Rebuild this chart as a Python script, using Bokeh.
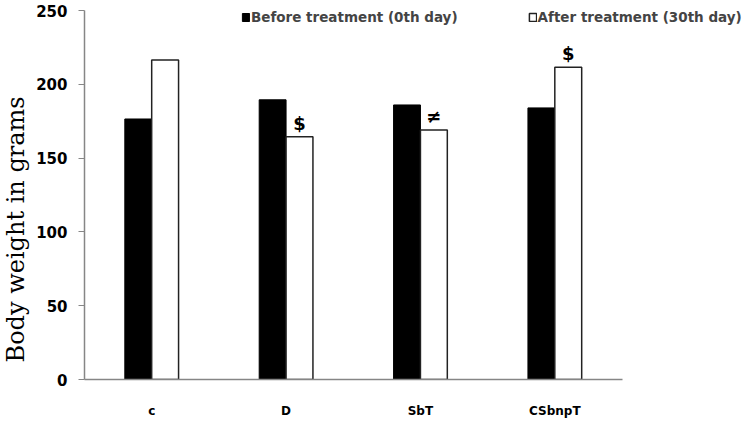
from bokeh.plotting import figure
from bokeh.models import (ColumnDataSource, Range1d, FixedTicker, Legend,
                          LegendItem, Title)
from bokeh.transform import dodge
from bokeh.core.properties import value
from bokeh.embed import file_html
from bokeh.resources import INLINE

# ---- data ----
categories = ["c", "D", "SbT", "CSbnpT"]
before = [176.5, 189.5, 186, 184]
after = [216.5, 164.5, 169, 211.5]
y_ticks = [0, 50, 100, 150, 200, 250]
ann_cats = ["D", "SbT", "CSbnpT"]
ann_text = ["$", "\u2260", "$"]

# category slot centres (derived from order)
pos = [i + 0.5 for i in range(len(categories))]
pos_map = dict(zip(categories, pos))
after_map = dict(zip(categories, after))
ann_x = [pos_map[c] for c in ann_cats]
ann_y = [after_map[c] for c in ann_cats]

src = ColumnDataSource(dict(pos=pos, before=before, after=after))
ann = ColumnDataSource(dict(x=ann_x, txt=ann_text, y=ann_y))

AX = "#868686"
SANS = "DejaVu Sans"

FRAME_W = 668          # frame spans to the right edge so the legend fits
CAT_W = 537.5          # pixel width occupied by the four category slots
FRAME_H = 379
Y_TOP = 250 + 10 * 250 / 369   # leaves 10px above the 250 line

p = figure(x_range=Range1d(0, len(categories) * FRAME_W / CAT_W),
           y_range=Range1d(0, Y_TOP),
           frame_width=FRAME_W, frame_height=FRAME_H,
           min_border_left=84, min_border_right=0,
           min_border_top=0, min_border_bottom=41,
           output_backend="svg", toolbar_location=None,
           background_fill_color="white", border_fill_color="white")
p.outline_line_color = None
p.grid.visible = False

r1 = p.vbar(x=dodge("pos", -0.1), top="before", width=0.2,
            source=src, fill_color="black", line_color="black", line_width=1)
r2 = p.vbar(x=dodge("pos", 0.1), top="after", width=0.2,
            source=src, fill_color="white", line_color="#222222", line_width=1.5)

p.text(x=dodge("x", 0.1), y="y", text="txt", source=ann,
       text_font=value(SANS), text_font_style="bold", text_font_size="18px",
       text_align="center", text_baseline="bottom", y_offset=-3,
       text_color="black")

# y axis
p.yaxis.ticker = FixedTicker(ticks=y_ticks)
p.yaxis.bounds = (0, 250)
p.yaxis.minor_tick_line_color = None
p.yaxis.major_tick_in = 0
p.yaxis.major_tick_out = 6
p.yaxis.major_tick_line_color = AX
p.yaxis.axis_line_color = AX
p.yaxis.axis_line_width = 1.5
p.yaxis.major_label_text_font = SANS
p.yaxis.major_label_text_font_style = "bold"
p.yaxis.major_label_text_font_size = "15px"
p.yaxis.major_label_text_color = "black"
p.yaxis.major_label_standoff = 11

# x axis
p.xaxis.ticker = FixedTicker(ticks=pos)
p.xaxis.major_label_overrides = {x: c for x, c in zip(pos, categories)}
p.xaxis.bounds = (0, len(categories))
p.xaxis.minor_tick_line_color = None
p.xaxis.major_tick_in = 0
p.xaxis.major_tick_out = 0
p.xaxis.axis_line_color = AX
p.xaxis.axis_line_width = 1.5
p.xaxis.major_label_text_font = SANS
p.xaxis.major_label_text_font_style = "bold"
p.xaxis.major_label_text_font_size = "12px"
p.xaxis.major_label_text_color = "black"
p.xaxis.major_label_standoff = 24

ytitle = Title(text="Body weight in grams", align="left", offset=17,
               vertical_align="top",
               text_font="DejaVu Serif", text_font_style="normal",
               text_font_size="24px", text_color="black", standoff=3)
p.add_layout(ytitle, "left")

legend = Legend(items=[LegendItem(label="Before treatment (0th day)", renderers=[r1]),
                       LegendItem(label="After treatment (30th day)", renderers=[r2])],
                orientation="horizontal", location=(157, 354), spacing=70,
                padding=0, margin=0, border_line_color=None,
                background_fill_alpha=0, glyph_width=9, glyph_height=10,
                label_standoff=1, label_text_font=SANS, label_text_font_style="bold",
                label_text_font_size="13.5px", label_height=14)
p.add_layout(legend)

open("out.html", "w").write(file_html(p, INLINE))
